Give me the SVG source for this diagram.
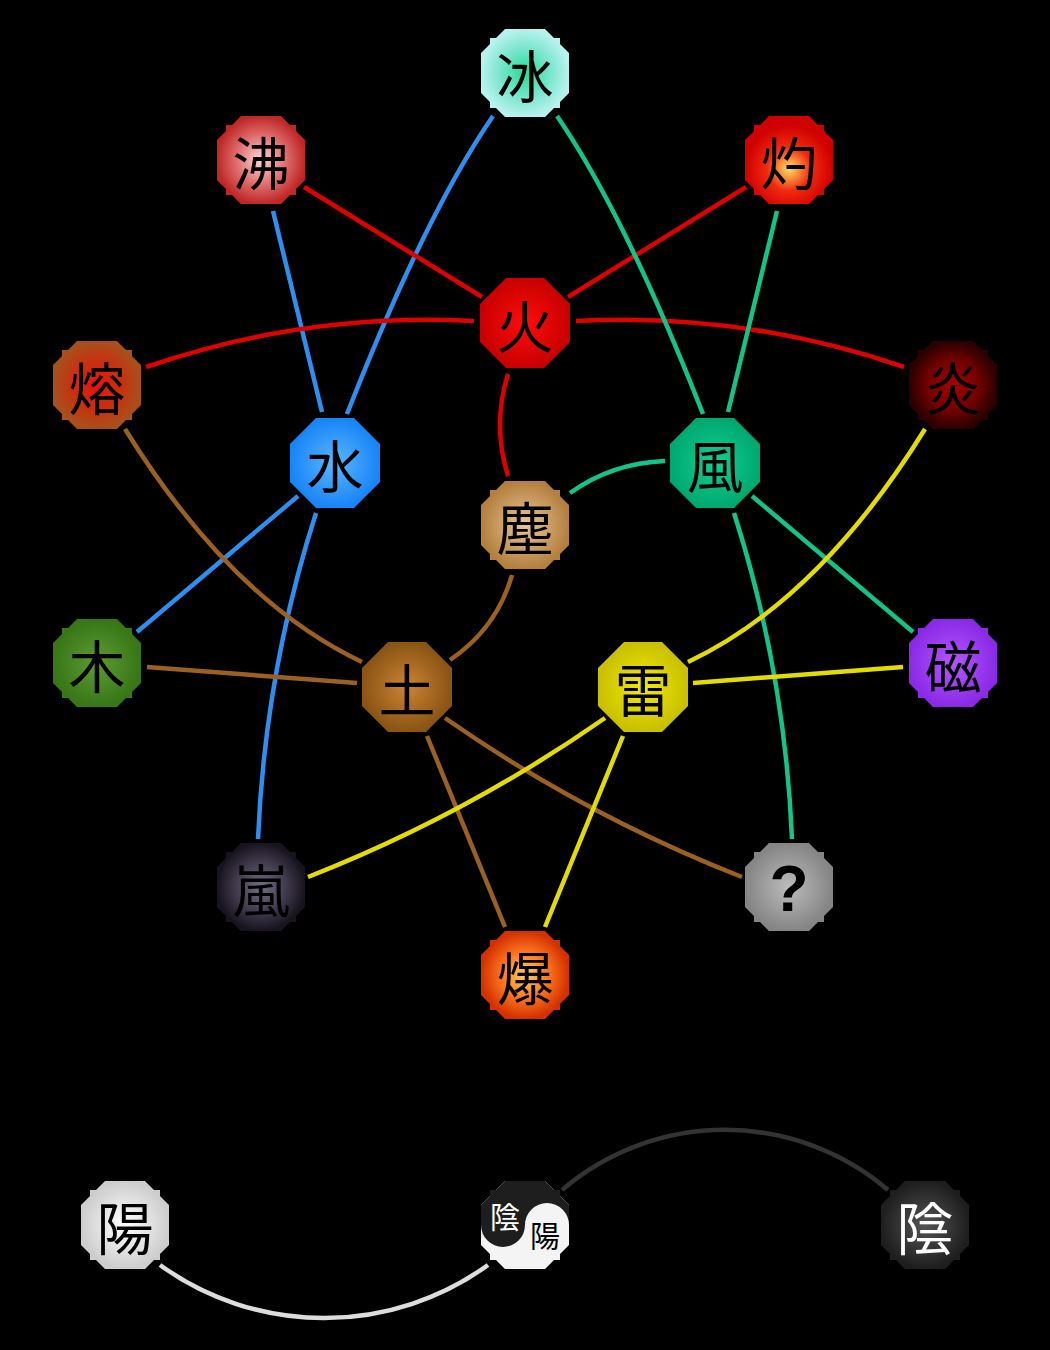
<svg xmlns="http://www.w3.org/2000/svg" xmlns:xlink="http://www.w3.org/1999/xlink" width="1050" height="1350" viewBox="0 0 1050 1350">
<style>
.c{fill:none;stroke-width:4.5;stroke-linecap:butt}
.blue{stroke:#2f8ff0}
.red{stroke:#dd0000}
.green{stroke:#12c48a}
.brown{stroke:#9a6122}
.yellow{stroke:#e2dc00}
.t{font-family:"Noto Sans CJK JP","Noto Sans CJK SC",sans-serif;font-size:57px;text-anchor:middle;dominant-baseline:central;fill:#000}
</style>
<defs>
<path id="oct" d="M-19,-45 L19,-45 L45,-19 L45,19 L19,45 L-19,45 L-45,19 L-45,-19 Z"/>
<path id="noct" d="M-20,-44 L20,-44 L29,-35 L35,-35 L35,-29 L44,-20 L44,20 L35,29 L35,35 L29,35 L20,44 L-20,44 L-29,35 L-35,35 L-35,29 L-44,20 L-44,-20 L-35,-29 L-35,-35 L-29,-35 Z"/>
<clipPath id="yyclip"><path transform="translate(525,1225)" d="M-20,-44 L20,-44 L29,-35 L35,-35 L35,-29 L44,-20 L44,20 L35,29 L35,35 L29,35 L20,44 L-20,44 L-29,35 L-35,35 L-35,29 L-44,20 L-44,-20 L-35,-29 L-35,-35 L-29,-35 Z"/></clipPath>
<radialGradient id="gBing"><stop offset="0" stop-color="#22dd98"/><stop offset="0.6" stop-color="#7fe6cf"/><stop offset="1" stop-color="#b6f2ee"/></radialGradient>
<radialGradient id="gFei"><stop offset="0" stop-color="#ffd6d6"/><stop offset="0.55" stop-color="#e07070"/><stop offset="1" stop-color="#c02828"/></radialGradient>
<radialGradient id="gShaku" cx="0.5" cy="0.6"><stop offset="0" stop-color="#ffe060"/><stop offset="0.5" stop-color="#f02a10"/><stop offset="1" stop-color="#d00000"/></radialGradient>
<radialGradient id="gHi"><stop offset="0" stop-color="#ff0c0c"/><stop offset="1" stop-color="#c80000"/></radialGradient>
<radialGradient id="gYou"><stop offset="0" stop-color="#e81210"/><stop offset="0.55" stop-color="#c8300f"/><stop offset="1" stop-color="#a8501c"/></radialGradient>
<radialGradient id="gEn"><stop offset="0" stop-color="#a80000"/><stop offset="0.6" stop-color="#700000"/><stop offset="1" stop-color="#2a0000"/></radialGradient>
<radialGradient id="gSui"><stop offset="0" stop-color="#5ab8ff"/><stop offset="1" stop-color="#1884f6"/></radialGradient>
<radialGradient id="gFu"><stop offset="0" stop-color="#12d094"/><stop offset="1" stop-color="#00a870"/></radialGradient>
<radialGradient id="gJin"><stop offset="0" stop-color="#e8c598"/><stop offset="1" stop-color="#b4803e"/></radialGradient>
<radialGradient id="gMoku"><stop offset="0" stop-color="#5c9c32"/><stop offset="1" stop-color="#387616"/></radialGradient>
<radialGradient id="gDo"><stop offset="0" stop-color="#cc8434"/><stop offset="1" stop-color="#8a5414"/></radialGradient>
<radialGradient id="gRai"><stop offset="0" stop-color="#f2ea00"/><stop offset="1" stop-color="#c8c000"/></radialGradient>
<radialGradient id="gJi"><stop offset="0" stop-color="#b456ff"/><stop offset="1" stop-color="#8a2ae6"/></radialGradient>
<radialGradient id="gRan"><stop offset="0" stop-color="#736d84"/><stop offset="0.6" stop-color="#3e384a"/><stop offset="1" stop-color="#18141e"/></radialGradient>
<radialGradient id="gQ"><stop offset="0" stop-color="#bcbcbc"/><stop offset="1" stop-color="#858585"/></radialGradient>
<radialGradient id="gBaku"><stop offset="0" stop-color="#ffd458"/><stop offset="0.5" stop-color="#ff7a22"/><stop offset="1" stop-color="#d43000"/></radialGradient>
<radialGradient id="gYang"><stop offset="0" stop-color="#ffffff"/><stop offset="1" stop-color="#cdcdcd"/></radialGradient>
<radialGradient id="gYin"><stop offset="0" stop-color="#555555"/><stop offset="1" stop-color="#1e1e1e"/></radialGradient>
</defs>
<rect x="0" y="0" width="1050" height="1350" fill="#000"/>
<g id="connectors">
<line class="c blue" x1="273" y1="211" x2="322" y2="412"/>
<path class="c blue" d="M493,116 Q425,215 347,414"/>
<line class="c blue" x1="298" y1="496" x2="137" y2="632"/>
<path class="c blue" d="M316,513 Q265,672 258,839"/>
<line class="c red" x1="304" y1="187" x2="482" y2="297"/>
<line class="c red" x1="746" y1="187" x2="568" y2="297"/>
<path class="c red" d="M146,367 Q306,312 474,321"/>
<path class="c red" d="M576,321 Q744,312 904,367"/>
<path class="c red" d="M508,374 Q492,425 508,476"/>
<path class="c green" d="M557,116 Q625,215 703,414"/>
<line class="c green" x1="777" y1="211" x2="728" y2="412"/>
<path class="c green" d="M665,461 Q612,463 570,493"/>
<line class="c green" x1="752" y1="496" x2="913" y2="632"/>
<path class="c green" d="M734,513 Q785,672 792,839"/>
<path class="c brown" d="M125,429 Q231,600 362,662"/>
<line class="c brown" x1="147" y1="667" x2="357" y2="683"/>
<path class="c brown" d="M450,660 Q497,628 512,575"/>
<path class="c brown" d="M445,718 Q584,815 742,877"/>
<line class="c brown" x1="427" y1="736" x2="505" y2="927"/>
<path class="c yellow" d="M925,429 Q819,600 688,662"/>
<line class="c yellow" x1="693" y1="683" x2="903" y2="667"/>
<path class="c yellow" d="M605,718 Q466,815 308,877"/>
<line class="c yellow" x1="623" y1="736" x2="545" y2="927"/>
<path class="c" stroke="#333333" d="M562,1190 A251,251 0 0 1 888,1190"/>
<path class="c" stroke="#dddddd" d="M160,1265 A280,280 0 0 0 488,1265"/>
</g>
<g id="node-bing"><use href="#noct" x="525" y="73" fill="url(#gBing)"/><text class="t" x="525" y="73">冰</text></g>
<g id="node-futsu"><use href="#noct" x="261" y="160" fill="url(#gFei)"/><text class="t" x="261" y="160">沸</text></g>
<g id="node-shaku"><use href="#noct" x="789" y="160" fill="url(#gShaku)"/><text class="t" x="789" y="160">灼</text></g>
<g id="node-hi"><use href="#oct" x="525" y="323" fill="url(#gHi)"/><text class="t" x="525" y="323">火</text></g>
<g id="node-you"><use href="#noct" x="97" y="385" fill="url(#gYou)"/><text class="t" x="97" y="385">熔</text></g>
<g id="node-en"><use href="#noct" x="953" y="385" fill="url(#gEn)"/><text class="t" x="953" y="385">炎</text></g>
<g id="node-sui"><use href="#oct" x="335" y="463" fill="url(#gSui)"/><text class="t" x="335" y="463">水</text></g>
<g id="node-fu"><use href="#oct" x="715" y="463" fill="url(#gFu)"/><text class="t" x="715" y="463">風</text></g>
<g id="node-jin"><use href="#noct" x="525" y="525" fill="url(#gJin)"/><text class="t" x="525" y="525">塵</text></g>
<g id="node-moku"><use href="#noct" x="97" y="663" fill="url(#gMoku)"/><text class="t" x="97" y="663">木</text></g>
<g id="node-do"><use href="#oct" x="407" y="687" fill="url(#gDo)"/><text class="t" x="407" y="687">土</text></g>
<g id="node-rai"><use href="#oct" x="643" y="687" fill="url(#gRai)"/><text class="t" x="643" y="687">雷</text></g>
<g id="node-ji"><use href="#noct" x="953" y="663" fill="url(#gJi)"/><text class="t" x="953" y="663">磁</text></g>
<g id="node-ran"><use href="#noct" x="261" y="887" fill="url(#gRan)"/><text class="t" x="261" y="887">嵐</text></g>
<g id="node-unknown"><use href="#noct" x="789" y="887" fill="url(#gQ)"/><text x="789" y="889" style="font-family:'Liberation Sans',Arial,sans-serif;font-weight:bold;font-size:64px;text-anchor:middle;dominant-baseline:central;fill:#000">?</text></g>
<g id="node-baku"><use href="#noct" x="525" y="975" fill="url(#gBaku)"/><text class="t" x="525" y="975">爆</text></g>
<g id="node-yang"><use href="#noct" x="125" y="1225" fill="url(#gYang)"/><text class="t" x="125" y="1225">陽</text></g>
<g id="node-yinyang">
<use href="#noct" x="525" y="1225" fill="#f4f4f4"/>
<path clip-path="url(#yyclip)" fill="#1e1e1e" d="M460,1225 L481,1225 A22,22 0 0 0 525,1225 A22,22 0 0 1 569,1225 L590,1225 L590,1160 L460,1160 Z"/>
<text x="505" y="1215" style="font-family:'Noto Sans CJK JP','Noto Sans CJK SC',sans-serif;font-size:30px;text-anchor:middle;dominant-baseline:central;fill:#fff">陰</text>
<text x="545" y="1234" style="font-family:'Noto Sans CJK JP','Noto Sans CJK SC',sans-serif;font-size:30px;text-anchor:middle;dominant-baseline:central;fill:#000">陽</text>
</g>
<g id="node-yin"><use href="#noct" x="925" y="1225" fill="url(#gYin)"/><text class="t" x="925" y="1225" style="fill:#fff">陰</text></g>
</svg>
